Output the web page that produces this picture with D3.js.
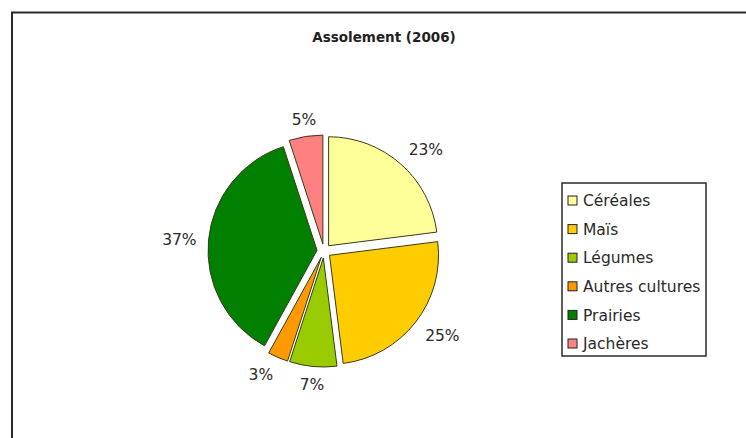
<!DOCTYPE html>
<html>
<head>
<meta charset="utf-8">
<script src="https://cdn.jsdelivr.net/npm/d3@7"></script>
<style>
  html, body { margin: 0; padding: 0; background: #fff; }
  svg { display: block; }
</style>
</head>
<body>
<svg id="chart" width="746" height="438"></svg>
<script>
const title = "Assolement (2006)";
const categories = ["Céréales", "Maïs", "Légumes", "Autres cultures", "Prairies", "Jachères"];
const values = [23, 25, 7, 3, 37, 5];
const colors = ["#ffff99", "#ffcc00", "#99cc00", "#ff9900", "#007f00", "#ff8080"];

const W = 746, H = 438;
const svg = d3.select("#chart");

// outer frame (extends beyond the picture at right and bottom)
svg.append("rect")
  .attr("x", 12).attr("y", 12.5)
  .attr("width", W + 20).attr("height", H + 20)
  .attr("fill", "#fff").attr("stroke", "#2a2a2a").attr("stroke-width", 2);

// title
svg.append("text")
  .attr("x", 384).attr("y", 42)
  .attr("text-anchor", "middle")
  .attr("font-family", "DejaVu Sans, sans-serif")
  .attr("font-weight", "bold")
  .attr("font-size", 13.5)
  .attr("fill", "#222")
  .text(title);

const cx = 324, cy = 251, r = 109, explode = 7, labelR = 128;
const color = d3.scaleOrdinal().domain(categories).range(colors);

const pie = d3.pie().sort(null).value(d => d.value);
const data = pie(categories.map((c, i) => ({ name: c, value: values[i] })));
const arc = d3.arc().innerRadius(0).outerRadius(r);

const g = svg.append("g").attr("transform", `translate(${cx},${cy})`);

g.selectAll("path.slice")
  .data(data)
  .join("path")
  .attr("class", "slice")
  .attr("transform", d => {
    const a = (d.startAngle + d.endAngle) / 2;
    return `translate(${explode * Math.sin(a)},${-explode * Math.cos(a)})`;
  })
  .attr("d", arc)
  .attr("fill", d => color(d.data.name))
  .attr("stroke", "#3a3a1a")
  .attr("stroke-width", 1)
  .attr("stroke-linejoin", "round");

const fs = 15.5, cap = fs * 0.73;
g.selectAll("text.lbl")
  .data(data)
  .join("text")
  .attr("class", "lbl")
  .attr("font-family", "DejaVu Sans, sans-serif")
  .attr("font-size", fs)
  .attr("fill", "#2a2a2a")
  .attr("text-anchor", d => {
    const s = Math.sin((d.startAngle + d.endAngle) / 2);
    return s > 0.25 ? "start" : (s < -0.25 ? "end" : "middle");
  })
  .attr("x", d => labelR * Math.sin((d.startAngle + d.endAngle) / 2))
  .attr("y", d => {
    const a = (d.startAngle + d.endAngle) / 2;
    const y = -labelR * Math.cos(a);
    const c = Math.cos(a);
    return c > 0.25 ? y : (c < -0.25 ? y + cap : y + cap / 2);
  })
  .text(d => d.data.value + "%");

// legend
const lx = 562, ly = 183, lw = 144, lh = 173;
svg.append("rect")
  .attr("x", lx).attr("y", ly).attr("width", lw).attr("height", lh)
  .attr("fill", "#fff").attr("stroke", "#2a2a2a").attr("stroke-width", 1.5);

const rowY = d3.scalePoint().domain(categories).range([200.5, 343.5]);
const items = svg.selectAll("g.item")
  .data(categories)
  .join("g")
  .attr("class", "item")
  .attr("transform", d => `translate(${lx + 6},${rowY(d)})`);

items.append("rect")
  .attr("x", 0).attr("y", -4.5).attr("width", 9).attr("height", 9)
  .attr("fill", d => color(d))
  .attr("stroke", "#222").attr("stroke-width", 1);

items.append("text")
  .attr("x", 15).attr("y", cap / 2)
  .attr("font-family", "DejaVu Sans, sans-serif")
  .attr("font-size", fs)
  .attr("fill", "#2a2a2a")
  .text(d => d);
</script>
</body>
</html>
